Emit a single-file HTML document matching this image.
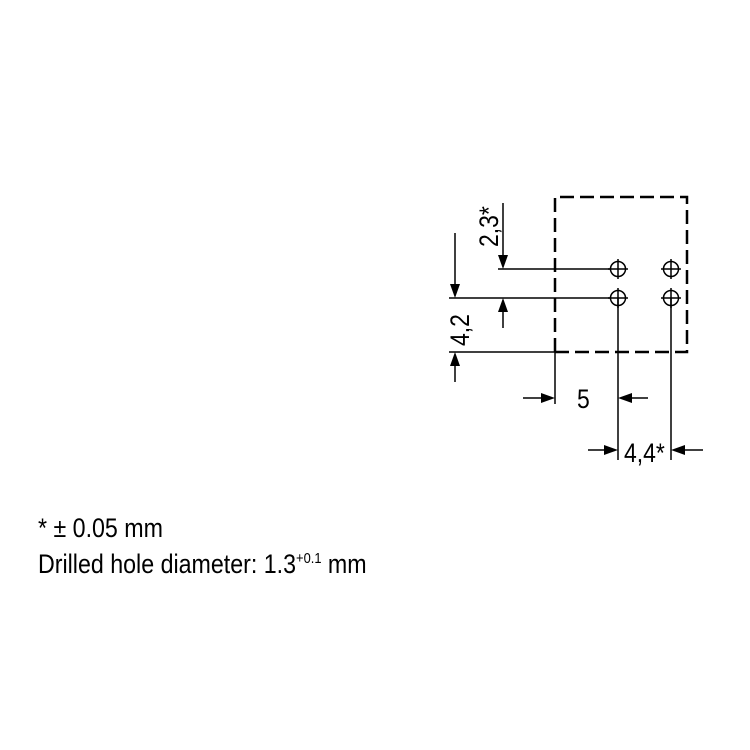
<!DOCTYPE html>
<html><head><style>body{margin:0;background:#fff}svg{display:block}</style></head><body>
<svg width="750" height="750" viewBox="0 0 750 750" xmlns="http://www.w3.org/2000/svg" font-family="Liberation Sans, sans-serif">
<rect width="750" height="750" fill="#fff"/>
<g stroke="#000" stroke-width="2.5" fill="none">
<path d="M555 352 V197 H687 V352 H555" stroke-dasharray="14,6"/>
</g>
<g stroke="#000" stroke-width="1.5" fill="none">
<line x1="498" y1="269" x2="610" y2="269"/>
<line x1="449" y1="298" x2="610" y2="298"/>
<line x1="449" y1="352" x2="555" y2="352"/>
<line x1="503" y1="203" x2="503" y2="260"/>
<line x1="503" y1="308" x2="503" y2="328"/>
<line x1="455" y1="233" x2="455" y2="289"/>
<line x1="455" y1="362" x2="455" y2="382"/>
<line x1="555" y1="352" x2="555" y2="404"/>
<line x1="618" y1="298" x2="618" y2="460"/>
<line x1="671" y1="298" x2="671" y2="460"/>
<line x1="523" y1="398" x2="546" y2="398"/>
<line x1="627" y1="398" x2="648" y2="398"/>
<line x1="588" y1="450" x2="609" y2="450"/>
<line x1="680" y1="450" x2="703" y2="450"/>
<circle cx="618" cy="269" r="7.5"/><circle cx="671" cy="269" r="7.5"/>
<circle cx="618" cy="298" r="7.5"/><circle cx="671" cy="298" r="7.5"/>
<path d="M608 269h20M618 259v20M661 269h20M671 259v20M608 298h20M618 288v20M661 298h20M671 288v20"/>
</g>
<g fill="#000">
<path d="M503 269l-5-14h10z"/><path d="M503 298l-5 14h10z"/>
<path d="M455 298l-5-14h10z"/><path d="M455 352l-5 14h10z"/>
<path d="M555 398l-14-5v10z"/><path d="M618 398l14-5v10z"/>
<path d="M618 450l-14-5v10z"/><path d="M671 450l14-5v10z"/>
</g>
<g font-size="27" fill="#000">
<text transform="translate(498,247) rotate(-90) scale(0.85,1)">2,3*</text>
<text transform="translate(469,346) rotate(-90) scale(0.85,1)">4,2</text>
<text transform="translate(577,408) scale(0.85,1)">5</text>
<text transform="translate(624,462) scale(0.85,1)">4,4*</text>
</g>
<g font-size="27" fill="#000">
<text transform="translate(38,537) scale(0.86,1)">* ± 0.05 mm</text>
<text transform="translate(38,573) scale(0.86,1)">Drilled hole diameter: 1.3<tspan font-size="15" dy="-10">+0.1</tspan><tspan dy="10"> mm</tspan></text>
</g>
</svg>
</body></html>
